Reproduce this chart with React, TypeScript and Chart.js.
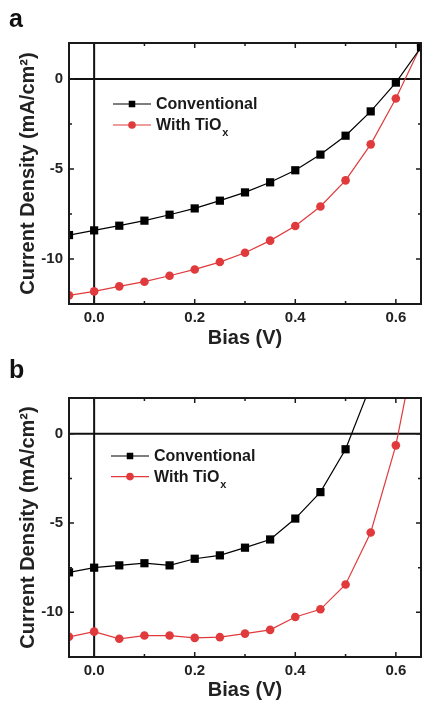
import React, { useEffect, useRef } from 'react';
import { Chart, registerables } from 'chart.js';

Chart.register(...registerables);

// ---------- data ----------
const bias = [-0.05, 0, 0.05, 0.1, 0.15, 0.2, 0.25, 0.3, 0.35, 0.4, 0.45, 0.5, 0.55, 0.6, 0.65];

const aConventional = [-8.67, -8.41, -8.15, -7.87, -7.54, -7.19, -6.76, -6.3, -5.74, -5.07, -4.2, -3.15, -1.8, -0.2, 1.76];
const aTiOx = [-12.02, -11.8, -11.52, -11.26, -10.93, -10.58, -10.17, -9.65, -8.98, -8.17, -7.08, -5.63, -3.63, -1.08, 1.85];

const bConventional = [-7.76, -7.5, -7.37, -7.25, -7.37, -7.0, -6.81, -6.38, -5.92, -4.75, -3.27, -0.87, 2.72];
const bTiOx = [-11.37, -11.08, -11.48, -11.3, -11.3, -11.43, -11.39, -11.19, -10.98, -10.26, -9.83, -8.44, -5.53, -0.65, 6.45];

const xRange = [-0.05, 0.65];
const yRange = [-12.5, 2];
const xMajorTicks = [0, 0.2, 0.4, 0.6];
const xMinorTicks = [0.1, 0.3, 0.5];
const yMajorTicks = [-10, -5, 0];
const yMinorTicks = [-7.5, -2.5];

const seriesLabels = ['Conventional', 'With TiO'];
const seriesSubscripts = ['', 'x'];
const seriesColors = ['#000000', '#e03a3c'];
const seriesMarkers = ['rect', 'circle'];

const xTitle = 'Bias (V)';
const yTitle = 'Current Density (mA/cm\u00B2)';

const FONT = '"Liberation Sans", Arial, Helvetica, sans-serif';

// ---------- plugin: frame, zero lines, inward ticks, legend ----------
const framePlugin = {
  id: 'frameAndLegend',
  beforeDatasetsDraw(chart: any) {
    const { ctx, chartArea: a, scales } = chart;
    const x0 = scales.x.getPixelForValue(0);
    const y0 = scales.y.getPixelForValue(0);
    ctx.save();
    ctx.strokeStyle = '#111';
    ctx.lineWidth = 2;
    ctx.beginPath();
    ctx.moveTo(x0, a.top);
    ctx.lineTo(x0, a.bottom);
    ctx.moveTo(a.left, y0);
    ctx.lineTo(a.right, y0);
    ctx.stroke();
    ctx.restore();
  },
  afterDatasetsDraw(chart: any, _args: any, opts: any) {
    const { ctx, chartArea: a, scales } = chart;
    ctx.save();
    ctx.strokeStyle = '#1a1a1a';
    ctx.lineWidth = 2;
    ctx.strokeRect(a.left, a.top, a.right - a.left, a.bottom - a.top);
    ctx.lineWidth = 1.5;
    ctx.beginPath();
    const xt = (vals: number[], len: number) => {
      vals.forEach((v) => {
        const p = scales.x.getPixelForValue(v);
        ctx.moveTo(p, a.bottom);
        ctx.lineTo(p, a.bottom - len);
        ctx.moveTo(p, a.top);
        ctx.lineTo(p, a.top + len);
      });
    };
    const yt = (vals: number[], len: number) => {
      vals.forEach((v) => {
        const p = scales.y.getPixelForValue(v);
        ctx.moveTo(a.left, p);
        ctx.lineTo(a.left + len, p);
        ctx.moveTo(a.right, p);
        ctx.lineTo(a.right - len, p);
      });
    };
    xt(xMajorTicks, 5);
    xt(xMinorTicks, 3);
    yt(yMajorTicks, 5);
    yt(yMinorTicks, 3);
    ctx.stroke();

    // legend
    const lx = a.left + opts.dx;
    let ly = a.top + opts.dy;
    chart.data.datasets.forEach((ds: any, i: number) => {
      ctx.strokeStyle = ds.borderColor;
      ctx.lineWidth = 1.2;
      ctx.beginPath();
      ctx.moveTo(lx, ly);
      ctx.lineTo(lx + 38, ly);
      ctx.stroke();
      ctx.fillStyle = ds.backgroundColor;
      const r = ds.pointStyle === 'rect' ? 4.6 : 3.8;
      if (ds.pointStyle === 'rect') {
        const s = r * Math.SQRT1_2;
        ctx.fillRect(lx + 19 - s, ly - s, 2 * s, 2 * s);
      } else {
        ctx.beginPath();
        ctx.arc(lx + 19, ly, r, 0, Math.PI * 2);
        ctx.fill();
      }
      ctx.fillStyle = '#1a1a1a';
      ctx.font = `bold 16px ${FONT}`;
      ctx.textBaseline = 'middle';
      ctx.textAlign = 'left';
      const main = seriesLabels[i];
      ctx.fillText(main, lx + 43, ly + 1);
      const sub = seriesSubscripts[i];
      if (sub) {
        const w = ctx.measureText(main).width;
        ctx.font = `bold 11px ${FONT}`;
        ctx.fillText(sub, lx + 43 + w + 1, ly + 8);
      }
      ly += opts.gap;
    });
    ctx.restore();
  },
};

type PanelProps = {
  conv: number[];
  tio: number[];
  height: number;
  padTop: number;
  axisH: number;
  legend: { dx: number; dy: number; gap: number };
};

function Panel({ conv, tio, height, padTop, axisH, legend }: PanelProps) {
  const ref = useRef<HTMLCanvasElement | null>(null);
  useEffect(() => {
    if (!ref.current) return;
    const series = [conv, tio];
    const chart = new Chart(ref.current, {
      type: 'line',
      data: {
        datasets: series.map((vals, i) => ({
          label: seriesLabels[i] + seriesSubscripts[i],
          data: vals.map((y, k) => ({ x: bias[k], y })),
          borderColor: seriesColors[i],
          backgroundColor: seriesColors[i],
          borderWidth: 1.2,
          pointStyle: seriesMarkers[i] as any,
          pointRadius: seriesMarkers[i] === 'rect' ? 5.8 : 4.3,
          pointBorderWidth: 0,
          tension: 0,
          clip: 0,
        })),
      },
      options: {
        animation: false,
        responsive: false,
        maintainAspectRatio: false,
        layout: { autoPadding: false, padding: { top: padTop, right: 1, left: 0, bottom: 0 } },
        plugins: {
          legend: { display: false },
          tooltip: { enabled: false },
          frameAndLegend: legend,
        } as any,
        scales: {
          x: {
            type: 'linear',
            min: xRange[0],
            max: xRange[1],
            grid: { display: false, drawTicks: false },
            border: { display: false },
            afterBuildTicks: (s: any) => {
              s.ticks = xMajorTicks.map((v) => ({ value: v }));
            },
            afterFit: (s: any) => {
              s.height = axisH;
              s.paddingLeft = 0;
              s.paddingRight = 0;
            },
            ticks: {
              color: '#222',
              font: { family: FONT, size: 15, weight: 'bold' },
              padding: 5,
              maxRotation: 0,
              callback: (v: any) => Number(v).toFixed(1),
            },
            title: {
              display: true,
              text: xTitle,
              color: '#222',
              font: { family: FONT, size: 20, weight: 'bold' },
              padding: { top: 0, bottom: 0 },
            },
          },
          y: {
            type: 'linear',
            min: yRange[0],
            max: yRange[1],
            grid: { display: false, drawTicks: false },
            border: { display: false },
            afterBuildTicks: (s: any) => {
              s.ticks = yMajorTicks.map((v) => ({ value: v }));
            },
            afterFit: (s: any) => {
              s.width = 69;
              s.paddingTop = 0;
              s.paddingBottom = 0;
            },
            ticks: {
              color: '#222',
              font: { family: FONT, size: 15, weight: 'bold' },
              padding: 6,
              callback: (v: any) => String(v),
            },
            title: {
              display: true,
              text: yTitle,
              color: '#222',
              font: { family: FONT, size: 20, weight: 'bold' },
              padding: { top: 16, bottom: 0 },
            },
          },
        },
      } as any,
      plugins: [framePlugin],
    });
    return () => chart.destroy();
  }, []);
  return <canvas ref={ref} width={422} height={height} style={{ display: 'block' }} />;
}

const labelStyle: React.CSSProperties = {
  position: 'absolute',
  left: 9,
  fontFamily: FONT,
  fontWeight: 'bold',
  fontSize: 25,
  lineHeight: '25px',
  color: '#111',
};

export default function App() {
  return (
    <div style={{ position: 'fixed', left: 0, top: 0, width: 422, height: 702, background: '#fff' }}>
      <div style={{ position: 'absolute', left: 0, top: 0 }}>
        <Panel conv={aConventional} tio={aTiOx} height={350} padTop={43} axisH={46} legend={{ dx: 44, dy: 61, gap: 21 }} />
      </div>
      <div style={{ position: 'absolute', left: 0, top: 353 }}>
        <Panel conv={bConventional} tio={bTiOx} height={349} padTop={45} axisH={45} legend={{ dx: 42, dy: 58, gap: 20.6 }} />
      </div>
      <div style={{ ...labelStyle, top: 6 }}>a</div>
      <div style={{ ...labelStyle, top: 357 }}>b</div>
    </div>
  );
}
